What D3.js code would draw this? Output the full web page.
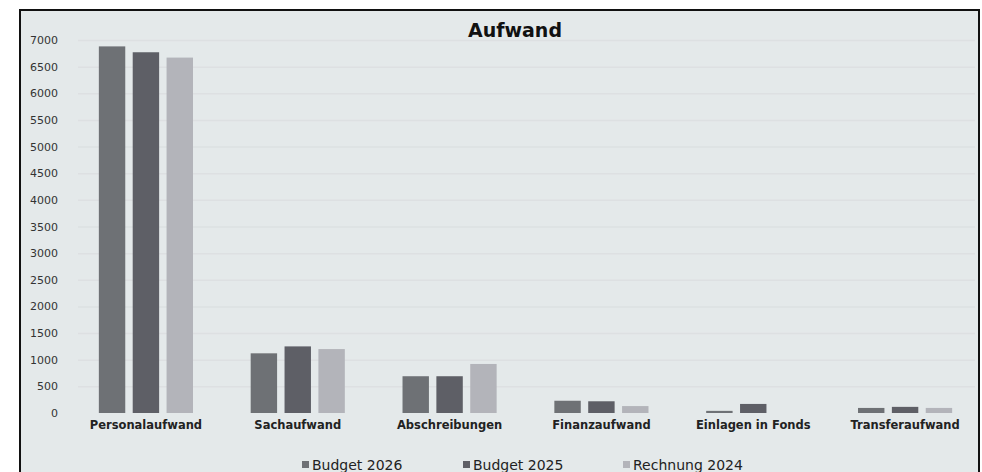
<!DOCTYPE html>
<html>
<head>
<meta charset="utf-8">
<script src="https://cdn.jsdelivr.net/npm/d3@7"></script>
<style>
  html, body { margin: 0; padding: 0; background: #fff; }
  svg { display: block; }
</style>
</head>
<body>
<div id="chart"></div>
<script>
const categories = ["Personalaufwand", "Sachaufwand", "Abschreibungen", "Finanzaufwand", "Einlagen in Fonds", "Transferaufwand"]
const seriesNames = ["Budget 2026", "Budget 2025", "Rechnung 2024"]
const budget2026 = [6880, 1120, 690, 230, 40, 95]
const budget2025 = [6770, 1250, 690, 220, 170, 115]
const rechnung2024 = [6670, 1200, 920, 130, 0, 95]
const yTicks = [0, 500, 1000, 1500, 2000, 2500, 3000, 3500, 4000, 4500, 5000, 5500, 6000, 6500, 7000]
const colors = ["#6e7175", "#5e5f66", "#b3b4ba"]

const width = 982
const height = 472
const font = "'DejaVu Sans', Verdana, sans-serif"

const svg = d3.select('#chart')
    .append('svg')
    .attr('width', width)
    .attr('height', height)

// frame
svg.append('rect')
    .attr('x', 20)
    .attr('y', 10)
    .attr('width', 959)
    .attr('height', 480)
    .attr('fill', '#e4e9ea')
    .attr('stroke', '#111')
    .attr('stroke-width', 2)

svg.append('text')
    .attr('x', 515)
    .attr('y', 37)
    .attr('text-anchor', 'middle')
    .attr('font-family', font)
    .attr('font-weight', 'bold')
    .attr('font-size', 19)
    .attr('fill', '#111')
    .text('Aufwand')

const yScale = d3.scaleLinear()
    .domain([0, 7000])
    .range([413, 40])

const xScale = d3.scaleBand()
    .domain(categories)
    .range([70, 981])
    .paddingInner(0.38)
    .paddingOuter(0.19)

const xSub = d3.scaleBand()
    .domain(seriesNames)
    .range([0, xScale.bandwidth()])
    .paddingInner(0.22)

// gridlines
svg.append('g')
    .selectAll('line')
    .data(yTicks.filter(d => d > 0))
    .enter()
    .append('line')
    .attr('x1', 78)
    .attr('x2', 975)
    .attr('y1', d => yScale(d) + 0.5)
    .attr('y2', d => yScale(d) + 0.5)
    .attr('stroke', '#dde0e2')
    .attr('stroke-width', 1.5)

// y axis
const yAxis = d3.axisLeft(yScale)
    .tickValues(yTicks)
    .tickFormat(d3.format('d'))
    .tickSize(0)
    .tickPadding(0)
const yG = svg.append('g')
    .attr('transform', 'translate(58,0)')
    .call(yAxis)
yG.select('.domain').remove()
yG.selectAll('text')
    .attr('font-family', font)
    .attr('font-size', 11)
    .attr('fill', '#333')

// bars
const data = categories.map((c, i) => ({
    cat: c,
    values: [budget2026[i], budget2025[i], rechnung2024[i]]
}))

const groups = svg.append('g')
    .selectAll('g')
    .data(data)
    .enter()
    .append('g')
    .attr('transform', d => 'translate(' + xScale(d.cat) + ',0)')

groups.selectAll('rect')
    .data(d => d.values.map((v, j) => ({ name: seriesNames[j], value: v, idx: j })))
    .enter()
    .append('rect')
    .attr('x', d => xSub(d.name))
    .attr('width', xSub.bandwidth())
    .attr('y', d => yScale(d.value))
    .attr('height', d => yScale(0) - yScale(d.value))
    .attr('fill', d => colors[d.idx])

// x axis labels
const xAxis = d3.axisBottom(xScale)
    .tickSize(0)
    .tickPadding(0)
const xG = svg.append('g')
    .attr('transform', 'translate(0,421)')
    .call(xAxis)
xG.select('.domain').remove()
xG.selectAll('text')
    .attr('font-family', font)
    .attr('font-weight', 'bold')
    .attr('font-size', 11.5)
    .attr('fill', '#222')

// legend
const legendX = [302, 463, 623]
const legend = svg.append('g')
    .selectAll('g')
    .data(seriesNames)
    .enter()
    .append('g')
    .attr('transform', (d, i) => 'translate(' + legendX[i] + ',461)')

legend.append('rect')
    .attr('width', 7)
    .attr('height', 7)
    .attr('y', 0)
    .attr('fill', (d, i) => colors[i])

legend.append('text')
    .attr('x', 10)
    .attr('y', 9)
    .attr('font-family', font)
    .attr('font-size', 14)
    .attr('fill', '#222')
    .text(d => d)
</script>
</body>
</html>
